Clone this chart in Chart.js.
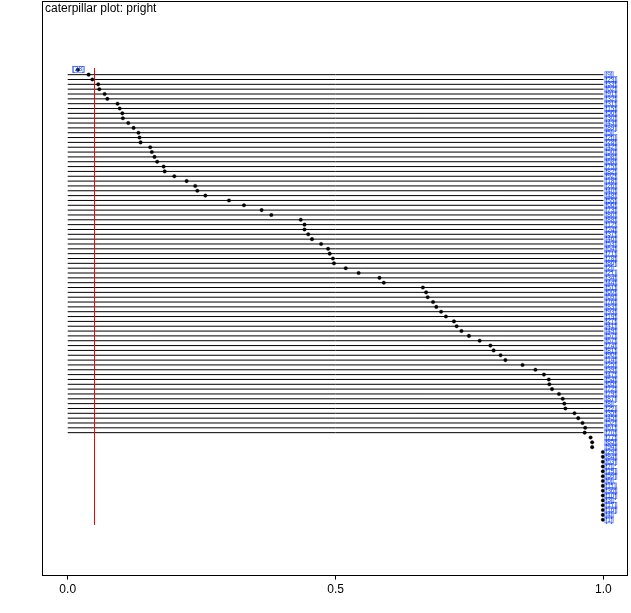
<!DOCTYPE html>
<html>
<head>
<meta charset="utf-8">
<script src="https://cdn.jsdelivr.net/npm/chart.js@4/dist/chart.umd.min.js"></script>
<style>
  html, body { margin: 0; padding: 0; background: #fff; }
  #wrap { width: 631px; height: 613px; }
</style>
</head>
<body>
<div id="wrap"><canvas id="plot" width="631" height="613"></canvas></div>
<script>
// p-values, sorted, one per row (top to bottom)
var pValues = [
  0.019, 0.039, 0.046, 0.057, 0.059, 0.069, 0.074, 0.093, 0.097, 0.102,
  0.103, 0.113, 0.123, 0.132, 0.134, 0.136, 0.154, 0.157, 0.162, 0.167,
  0.179, 0.181, 0.199, 0.222, 0.238, 0.242, 0.257, 0.301, 0.329, 0.362,
  0.380, 0.435, 0.442, 0.442, 0.449, 0.456, 0.473, 0.486, 0.489, 0.495,
  0.497, 0.519, 0.543, 0.582, 0.590, 0.663, 0.669, 0.672, 0.682, 0.688,
  0.697, 0.706, 0.721, 0.726, 0.735, 0.749, 0.769, 0.789, 0.795, 0.808,
  0.817, 0.849, 0.873, 0.889, 0.898, 0.899, 0.904, 0.917, 0.924, 0.927,
  0.929, 0.946, 0.953, 0.961, 0.966, 0.965, 0.976, 0.979, 0.979, 0.999,
  0.999, 0.999, 0.999, 0.999, 0.999, 0.999, 0.999, 0.999, 0.999, 0.999,
  0.999, 0.999, 0.999, 0.999
];

// row labels
var rowLabels = [
  38, 9, 23, 33, 62, 91, 32, 31, 15, 56, 30, 43, 89, 5,
  20, 28, 42, 50, 58, 68, 75, 82, 92, 18, 26, 40, 48, 55, 66, 73,
  80, 88, 12, 24, 37, 46, 53, 64, 71, 78, 86, 2, 21, 34, 44, 51,
  60, 69, 76, 83, 93, 19, 27, 41, 49, 57, 67, 74, 81, 90, 14, 25,
  39, 47, 54, 65, 72, 79, 87, 8, 22, 35, 45, 52, 61, 70, 77, 85, 94,
  29, 84, 63, 7, 13, 59, 6, 11, 36, 10, 3, 17, 16, 4, 1
];

// interval ends per row
var lower = [
  0.008,
  0, 0, 0, 0, 0, 0, 0, 0, 0, 0, 0, 0, 0, 0, 0,
  0, 0, 0, 0, 0, 0, 0, 0, 0, 0, 0, 0, 0, 0, 0,
  0, 0, 0, 0, 0, 0, 0, 0, 0, 0, 0, 0, 0, 0, 0,
  0, 0, 0, 0, 0, 0, 0, 0, 0, 0, 0, 0, 0, 0, 0,
  0, 0, 0, 0, 0, 0, 0, 0, 0, 0, 0, 0, 0, 0, 0,
  1, 1, 1, 1, 1, 1, 1, 1, 1, 1, 1, 1, 1, 1, 1, 1, 1, 1
];
var upper = [
  0.008,
  1, 1, 1, 1, 1, 1, 1, 1, 1, 1, 1, 1, 1, 1, 1,
  1, 1, 1, 1, 1, 1, 1, 1, 1, 1, 1, 1, 1, 1, 1,
  1, 1, 1, 1, 1, 1, 1, 1, 1, 1, 1, 1, 1, 1, 1,
  1, 1, 1, 1, 1, 1, 1, 1, 1, 1, 1, 1, 1, 1, 1,
  1, 1, 1, 1, 1, 1, 1, 1, 1, 1, 1, 1, 1, 1, 1,
  1, 1, 1, 1, 1, 1, 1, 1, 1, 1, 1, 1, 1, 1, 1, 1, 1, 1
];

var xTicks = [0, 0.5, 1];
var alpha = 0.05;
var titleText = "caterpillar plot: pright";

// build datasets
var pointData = pValues.map(function(p, i) { return { x: p, y: i }; });

var intervalData = [];
lower.forEach(function(lo, i) {
  intervalData.push({ x: lo, y: i });
  intervalData.push({ x: upper[i], y: i });
  intervalData.push({ x: lo, y: null });
});

var nRows = pValues.length;
var redData = [{ x: alpha, y: -0.3 }, { x: alpha, y: nRows }];

// frame, title and row labels
var decor = {
  id: 'decor',
  afterDatasetsDraw: function(chart) {
    var ctx = chart.ctx;
    var a = chart.chartArea;
    var xs = chart.scales.x, ys = chart.scales.y;
    ctx.save();
    ctx.font = '6.5px "Liberation Sans", Arial, sans-serif';
    ctx.textBaseline = 'middle';
    rowLabels.forEach(function(lab, i) {
      var txt = '[' + lab + ']';
      var px = xs.getPixelForValue(upper[i]) + 2;
      if (i === 0) px = xs.getPixelForValue(upper[i]) + 1;
      var py = ys.getPixelForValue(i) - (i === 0 ? 0.5 : 0);
      var w = ctx.measureText(txt).width;
      ctx.strokeStyle = 'rgba(70,105,255,0.85)';
      ctx.lineWidth = 0.8;
      ctx.strokeRect(px - 0.5, py - 3, w + 1, 6);
      ctx.fillStyle = '#0a3cff';
      ctx.fillText(txt, px, py + 0.3);
    });
    ctx.strokeStyle = '#000';
    ctx.lineWidth = 1;
    ctx.strokeRect(Math.round(a.left) + 0.5, Math.round(a.top) - 0.5,
      Math.round(a.right - a.left), Math.round(a.bottom - a.top) + 1);
    ctx.fillStyle = '#000';
    ctx.font = '12px "Liberation Sans", Arial, sans-serif';
    ctx.textBaseline = 'top';
    ctx.fillText(titleText, a.left + 3, a.top + 1);
    ctx.restore();
  }
};

new Chart(document.getElementById('plot').getContext('2d'), {
  type: 'scatter',
  data: {
    datasets: [
      {
        label: 'p',
        data: pointData,
        pointRadius: 1.8,
        pointHoverRadius: 1.8,
        pointBackgroundColor: '#000',
        pointBorderColor: '#000',
        pointBorderWidth: 0.3,
        showLine: false
      },
      {
        label: 'alpha',
        data: redData,
        showLine: true,
        borderColor: '#ff0000',
        borderWidth: 1,
        pointRadius: 0
      },
      {
        label: 'interval',
        data: intervalData,
        showLine: true,
        spanGaps: false,
        borderColor: '#000',
        borderWidth: 1,
        pointRadius: 0
      }
    ]
  },
  options: {
    responsive: false,
    animation: false,
    events: [],
    layout: { padding: { left: 42, right: 4, top: 1, bottom: 13 } },
    plugins: {
      legend: { display: false },
      tooltip: { enabled: false },
      title: { display: false }
    },
    scales: {
      x: {
        type: 'linear',
        min: -0.048,
        max: 1.044,
        afterBuildTicks: function(scale) {
          scale.ticks = xTicks.map(function(v) { return { value: v }; });
        },
        ticks: {
          color: '#000',
          padding: 3,
          font: { family: '"Liberation Sans", Arial, sans-serif', size: 12 },
          callback: function(v) { return v.toFixed(1); }
        },
        grid: {
          drawOnChartArea: false,
          drawTicks: true,
          tickLength: 5,
          color: '#000',
          lineWidth: 1
        },
        border: { display: false }
      },
      y: {
        type: 'linear',
        display: false,
        reverse: true,
        min: -14,
        max: 104.34
      }
    }
  },
  plugins: [decor]
});
</script>
</body>
</html>
